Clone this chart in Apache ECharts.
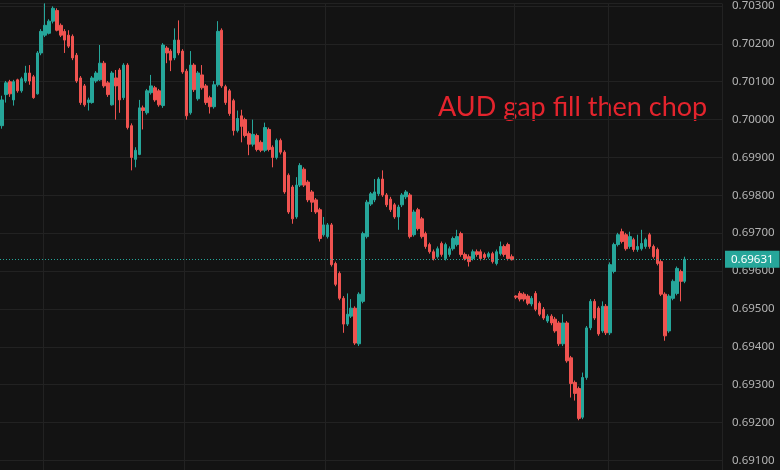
<!DOCTYPE html>
<html>
<head>
<meta charset="utf-8">
<script src="https://cdn.jsdelivr.net/npm/echarts@6/dist/echarts.min.js"></script>
<style>html,body{margin:0;padding:0;background:#131313;}#c{width:780px;height:470px;}</style>
</head>
<body>
<div id="c"></div>
<script>
// OHLC per candle (price)
const opens = [0.69984,0.70066,0.70100,0.70052,0.70105,0.70076,0.70102,0.70123,0.70113,0.70068,
0.70176,0.70223,0.70228,0.70260,0.70288,0.70249,0.70233,0.70223,0.70220,0.70170,
0.70110,0.70089,0.70045,0.70045,0.70102,0.70105,0.70149,0.70097,0.70039,0.70110,
0.70131,0.70058,0.70144,0.69984,0.69895,0.69908,0.70031,0.70018,0.70071,0.70084,
0.70076,0.70037,0.70189,0.70181,0.70163,0.70210,0.70181,0.70128,0.70018,0.70144,
0.70055,0.70118,0.70089,0.70058,0.70034,0.70092,0.70236,0.70087,0.70076,0.70050,
0.69971,0.70010,0.70000,0.69963,0.69935,0.69958,0.69940,0.69919,0.69974,0.69927,
0.69900,0.69945,0.69914,0.69853,0.69822,0.69743,0.69827,0.69869,0.69835,0.69809,
0.69788,0.69762,0.69696,0.69691,0.69722,0.69620,0.69594,0.69528,0.69460,0.69481,
0.69502,0.69408,0.69520,0.69691,0.69777,0.69788,0.69804,0.69843,0.69801,0.69790,
0.69775,0.69743,0.69775,0.69796,0.69801,0.69696,0.69762,0.69738,0.69699,0.69670,
0.69651,0.69638,0.69673,0.69633,0.69644,0.69659,0.69670,0.69699,0.69644,0.69638,
0.69633,0.69651,0.69651,0.69644,0.69638,0.69646,0.69620,0.69646,0.69665,0.69670,
0.69638,0.69534,0.69541,0.69539,0.69534,0.69513,0.69541,0.69515,0.69499,0.69468,
0.69481,0.69473,0.69463,0.69408,0.69463,0.69371,0.69306,0.69290,0.69214,0.69319,
0.69450,0.69520,0.69502,0.69442,0.69507,0.69437,0.69599,0.69670,0.69704,0.69696,
0.69665,0.69683,0.69657,0.69659,0.69665,0.69696,0.69665,0.69657,0.69625,0.69539,
0.69442,0.69528,0.69541,0.69599,0.69573];
const closes = [0.70052,0.70097,0.70068,0.70100,0.70076,0.70108,0.70123,0.70102,0.70058,0.70176,
0.70233,0.70249,0.70260,0.70294,0.70236,0.70223,0.70210,0.70194,0.70163,0.70102,
0.70045,0.70039,0.70052,0.70110,0.70123,0.70149,0.70089,0.70066,0.70123,0.70089,
0.70052,0.70144,0.69979,0.69900,0.69919,0.70031,0.70024,0.70076,0.70089,0.70052,
0.70039,0.70197,0.70176,0.70157,0.70210,0.70176,0.70126,0.70010,0.70144,0.70079,
0.70123,0.70084,0.70045,0.70034,0.70092,0.70233,0.70089,0.70045,0.70016,0.69971,
0.70003,0.69982,0.69958,0.69935,0.69961,0.69921,0.69919,0.69979,0.69921,0.69900,
0.69945,0.69914,0.69809,0.69756,0.69738,0.69827,0.69879,0.69827,0.69788,0.69782,
0.69756,0.69686,0.69722,0.69722,0.69617,0.69565,0.69528,0.69460,0.69486,0.69502,
0.69410,0.69539,0.69699,0.69782,0.69804,0.69809,0.69843,0.69801,0.69775,0.69762,
0.69743,0.69769,0.69801,0.69809,0.69691,0.69756,0.69712,0.69691,0.69665,0.69651,
0.69633,0.69659,0.69644,0.69670,0.69659,0.69686,0.69691,0.69644,0.69633,0.69625,
0.69651,0.69644,0.69633,0.69636,0.69646,0.69625,0.69651,0.69665,0.69644,0.69633,
0.69630,0.69531,0.69526,0.69526,0.69515,0.69528,0.69499,0.69486,0.69476,0.69481,
0.69463,0.69442,0.69408,0.69463,0.69363,0.69303,0.69277,0.69211,0.69319,0.69450,
0.69520,0.69476,0.69434,0.69507,0.69437,0.69617,0.69670,0.69696,0.69678,0.69659,
0.69691,0.69657,0.69665,0.69673,0.69683,0.69665,0.69638,0.69620,0.69539,0.69429,
0.69534,0.69573,0.69607,0.69573,0.69631];
const lows = [0.69976,0.70045,0.70060,0.70037,0.70071,0.70071,0.70097,0.70092,0.70055,0.70066,
0.70170,0.70218,0.70225,0.70254,0.70233,0.70218,0.70176,0.70189,0.70157,0.70097,
0.70039,0.70034,0.70024,0.70042,0.70097,0.70102,0.70084,0.70060,0.70037,0.70000,
0.70018,0.70052,0.69974,0.69866,0.69874,0.69906,0.69974,0.70013,0.70066,0.70047,
0.70034,0.70031,0.70149,0.70128,0.70157,0.70170,0.70121,0.70000,0.70013,0.70073,
0.70050,0.70079,0.70039,0.70016,0.70029,0.70087,0.70084,0.70039,0.70010,0.69958,
0.69966,0.69940,0.69953,0.69906,0.69929,0.69916,0.69914,0.69914,0.69916,0.69874,
0.69895,0.69908,0.69804,0.69751,0.69725,0.69738,0.69822,0.69822,0.69782,0.69756,
0.69751,0.69678,0.69691,0.69686,0.69612,0.69560,0.69523,0.69437,0.69455,0.69476,
0.69405,0.69402,0.69515,0.69686,0.69772,0.69782,0.69798,0.69796,0.69769,0.69756,
0.69738,0.69709,0.69769,0.69790,0.69686,0.69691,0.69707,0.69686,0.69659,0.69646,
0.69628,0.69633,0.69638,0.69628,0.69638,0.69654,0.69665,0.69638,0.69628,0.69612,
0.69628,0.69638,0.69628,0.69630,0.69633,0.69620,0.69615,0.69641,0.69638,0.69628,
0.69628,0.69526,0.69520,0.69520,0.69510,0.69507,0.69494,0.69481,0.69471,0.69463,
0.69457,0.69437,0.69402,0.69402,0.69358,0.69266,0.69258,0.69206,0.69209,0.69313,
0.69444,0.69471,0.69429,0.69437,0.69431,0.69431,0.69594,0.69665,0.69673,0.69654,
0.69659,0.69651,0.69651,0.69654,0.69659,0.69659,0.69633,0.69615,0.69534,0.69416,
0.69437,0.69523,0.69536,0.69520,0.69568];
const highs = [0.70063,0.70102,0.70105,0.70105,0.70108,0.70113,0.70142,0.70144,0.70118,0.70181,
0.70239,0.70307,0.70265,0.70299,0.70294,0.70254,0.70239,0.70236,0.70225,0.70176,
0.70115,0.70094,0.70058,0.70115,0.70128,0.70197,0.70155,0.70102,0.70128,0.70131,
0.70136,0.70149,0.70149,0.69990,0.69927,0.70052,0.70037,0.70081,0.70118,0.70089,
0.70081,0.70202,0.70194,0.70186,0.70241,0.70262,0.70186,0.70134,0.70181,0.70149,
0.70128,0.70144,0.70094,0.70063,0.70102,0.70260,0.70241,0.70092,0.70081,0.70055,
0.70024,0.70026,0.70005,0.69969,0.70000,0.69963,0.69945,0.69992,0.69979,0.69932,
0.69950,0.69950,0.69919,0.69858,0.69827,0.69848,0.69885,0.69874,0.69840,0.69814,
0.69793,0.69767,0.69743,0.69727,0.69727,0.69625,0.69599,0.69534,0.69541,0.69526,
0.69507,0.69544,0.69704,0.69788,0.69809,0.69843,0.69848,0.69866,0.69806,0.69796,
0.69780,0.69775,0.69806,0.69814,0.69806,0.69762,0.69767,0.69743,0.69704,0.69675,
0.69657,0.69665,0.69678,0.69675,0.69665,0.69691,0.69709,0.69704,0.69649,0.69644,
0.69657,0.69657,0.69657,0.69649,0.69651,0.69651,0.69657,0.69678,0.69670,0.69675,
0.69644,0.69536,0.69547,0.69544,0.69539,0.69534,0.69547,0.69520,0.69505,0.69486,
0.69486,0.69479,0.69468,0.69486,0.69468,0.69376,0.69311,0.69295,0.69332,0.69455,
0.69526,0.69526,0.69507,0.69520,0.69513,0.69623,0.69675,0.69701,0.69712,0.69701,
0.69704,0.69688,0.69696,0.69709,0.69688,0.69701,0.69670,0.69662,0.69630,0.69544,
0.69539,0.69578,0.69612,0.69604,0.69638];
const slotCount = 184; // candle slots across the visible window
const categories = Array.from({length: slotCount}, (_, i) => 'H' + i);
const weekGridSlots = [11, 47, 83, 131, 155];
const yRange = {min: 0.690747, max: 0.703067}; // visible price window
const annotation = 'AUD gap fill then chop';

const ohlc = opens.map((o, i) => [o, closes[i], lows[i], highs[i]]);
const lastPrice = closes[closes.length - 1];
const UP = '#26a69a', DOWN = '#ef5350';

const chart = echarts.init(document.getElementById('c'), null, {renderer: 'canvas'});
chart.setOption({
  backgroundColor: '#131313',
  animation: false,
  grid: {left: 0, right: 58, top: 0, bottom: 0, containLabel: false},
  xAxis: {
    type: 'category', data: categories, boundaryGap: true,
    axisLine: {show: false}, axisTick: {show: false}, axisLabel: {show: false},
    splitLine: {show: true, interval: (idx) => weekGridSlots.includes(idx), lineStyle: {color: '#222222', width: 1}}
  },
  yAxis: {
    type: 'value', position: 'right',
    min: yRange.min, max: yRange.max, splitNumber: 12,
    axisLine: {show: false}, axisTick: {show: false},
    axisLabel: {color: '#b4b4b4', fontSize: 11.5, fontFamily: 'Noto Sans', margin: 10,
      showMinLabel: false, showMaxLabel: false, formatter: v => v.toFixed(5)},
    splitLine: {show: true, lineStyle: {color: '#222222', width: 1}}
  },
  series: [{
    type: 'candlestick',
    data: ohlc,
    barWidth: 3,
    itemStyle: {color: UP, color0: DOWN, borderColor: UP, borderColor0: DOWN, borderWidth: 1},
    markLine: {
      silent: true, symbol: 'none', precision: 5,
      data: [{yAxis: lastPrice}],
      lineStyle: {color: UP, type: [1, 2], width: 1},
      label: {show: true, position: 'end', distance: 3, formatter: lastPrice.toFixed(5),
        backgroundColor: UP, color: '#ffffff', padding: [3, 6, 2, 6], fontSize: 11.5, fontFamily: 'Noto Sans'}
    }
  }],
  graphic: [{
    type: 'text', left: 438, top: 94,
    style: {text: annotation, fill: '#e4242d', fontSize: 27, fontFamily: 'Lato'}
  }]
});
</script>
</body>
</html>
